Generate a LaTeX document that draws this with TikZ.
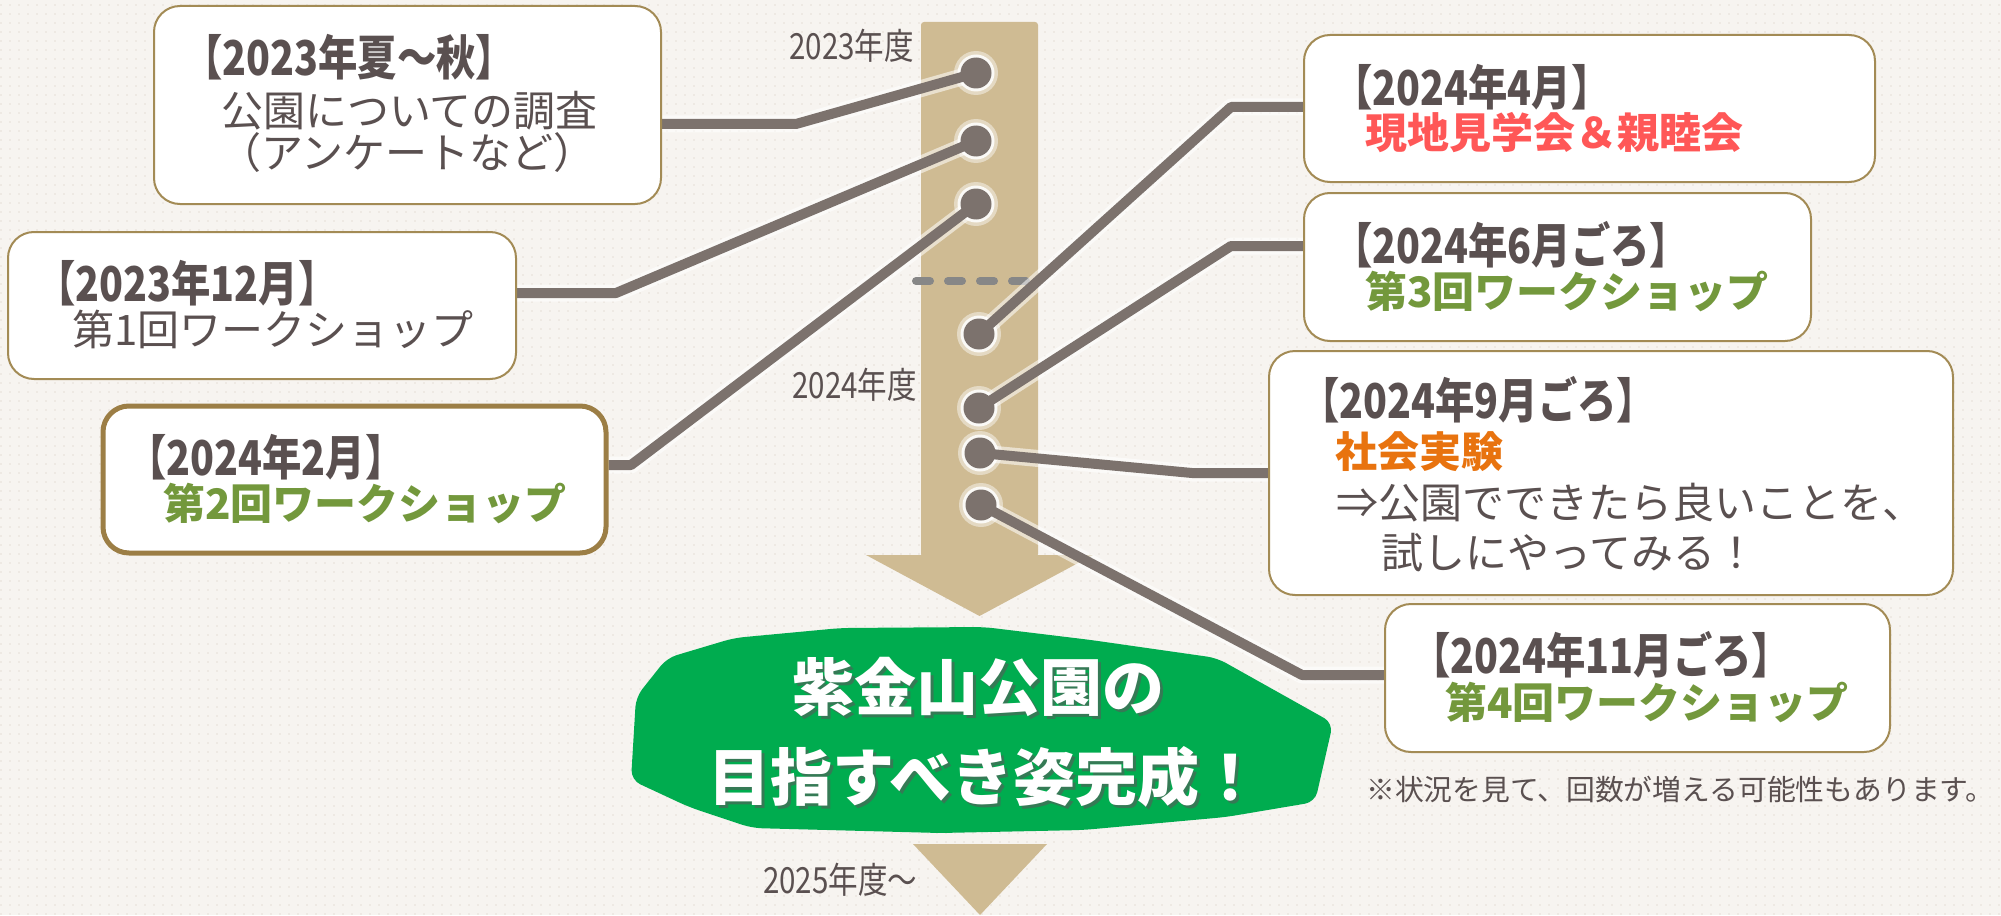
\documentclass[tikz,border=0pt]{standalone}
\usepackage{fontspec}
\newfontfamily\jp{Noto Sans CJK JP}
\newfontfamily\jpc[FakeStretch=0.82]{Noto Sans CJK JP}
\usetikzlibrary{patterns.meta}
\definecolor{bgc}{HTML}{F7F4F0}
\definecolor{dotc}{HTML}{EEE9E3}
\definecolor{textc}{HTML}{5A5050}
\definecolor{linec}{HTML}{7C726D}
\definecolor{arrowc}{HTML}{CFBB93}
\definecolor{borderc}{HTML}{A38B55}
\definecolor{borderb}{HTML}{9C7E45}
\definecolor{greent}{HTML}{73983C}
\definecolor{redt}{HTML}{FF5757}
\definecolor{oranget}{HTML}{E8730F}
\definecolor{blobc}{HTML}{00AC4F}
\definecolor{dashc}{HTML}{878787}
\pgfdeclarelayer{back}
\pgfdeclarelayer{lines}
\pgfsetlayers{back,lines,main}
\tikzdeclarepattern{
  name=bgdots,
  type=uncolored,
  bottom left={(0pt,0pt)},
  top right={(8.5pt,8.5pt)},
  tile size={(8.5pt,8.5pt)},
  code={\fill (0pt,0pt) rectangle (2pt,2pt);}
}
\begin{document}
\begin{tikzpicture}[x=1pt,y=-1pt,
  box/.style={draw=borderc, line width=2pt, fill=white, rounded corners=26pt, inner sep=0pt},
  boxb/.style={box, draw=borderb, line width=5pt},
  tx/.style={anchor=west, inner sep=0pt, text=textc, font={\jp\fontsize{42}{48}\selectfont}},
  dt/.style={anchor=west, inner sep=0pt, text=textc, font={\jpc\bfseries\fontsize{48}{54}\selectfont}},
  gt/.style={tx, text=greent, font={\jp\bfseries\fontsize{42}{48}\selectfont}},
  rt/.style={gt, text=redt},
  ot/.style={gt, text=oranget},
  yl/.style={inner sep=0pt, text=textc, font={\jpc\fontsize{36}{40}\selectfont}},
  dotpos/.style={circle, minimum size=32pt, inner sep=0pt},
  conn/.style={draw=linec, line width=10pt, line join=round},
  halo/.style={draw=white, line width=17pt, opacity=0.55, line join=round},
  goal/.style={inner sep=0pt, text=white, font={\jp\bfseries\fontsize{62}{68}\selectfont}},
  goalsh/.style={goal, text=black!65, opacity=0.6}
]
\useasboundingbox (0,0) rectangle (2001,915);
\begin{pgfonlayer}{back}
\fill[bgc] (0,0) rectangle (2001,915);
\fill[pattern={bgdots}, pattern color=dotc] (0,0) rectangle (2001,915);
% main arrow
\fill[arrowc, rounded corners=3pt] (921,557) -- (921,22) -- (1038,22) -- (1038,557) -- cycle;
\fill[arrowc] (866,555) -- (1093,555) -- (979.5,616) -- cycle;
\fill[arrowc] (913,844) -- (1047,844) -- (980,915) -- cycle;
\draw[dashc, line width=8pt, line cap=round, dash pattern=on 14pt off 18pt] (916,281) -- (1026,281);
\end{pgfonlayer}

% year labels
\node[yl, anchor=east] (y23) at (914,46) {2023年度};
\node[yl, anchor=east] (y24) at (917,385) {2024年度};
\node[yl, anchor=west] (y25) at (763,880) {2025年度～};

% dots
\node[dotpos] (d1) at (976,73) {};
\node[dotpos] (d2) at (976,141) {};
\node[dotpos] (d3) at (976,204) {};
\node[dotpos] (d4) at (979,334) {};
\node[dotpos] (d5) at (979,408) {};
\node[dotpos] (d6) at (980,453) {};
\node[dotpos] (d7) at (981,505) {};

% boxes
\node[box, minimum width=507pt, minimum height=198pt] (b1) at (407.5,105) {};
\node[box, minimum width=508pt, minimum height=147pt] (b2) at (262,305.5) {};
\node[boxb, minimum width=503pt, minimum height=147pt] (b3) at (354.5,479.5) {};
\node[box, minimum width=571pt, minimum height=147pt] (b4) at (1589.5,108.5) {};
\node[box, minimum width=507pt, minimum height=148pt] (b5) at (1557.5,267) {};
\node[box, minimum width=684pt, minimum height=244pt] (b6) at (1611,473) {};
\node[box, minimum width=505pt, minimum height=148pt] (b7) at (1637.5,678) {};

% texts
\node[dt] (t1a) at (183,57) {【2023年夏～秋】};
\node[tx] (t1b) at (221,111) {公園についての調査};
\node[tx] (t1c) at (219,153) {（アンケートなど）};
\node[dt] (t2a) at (36,283) {【2023年12月】};
\node[tx] (t2b) at (72,329) {第1回ワークショップ};
\node[dt] (t3a) at (127,457) {【2024年2月】};
\node[gt] (t3b) at (163,503) {第2回ワークショップ};
\node[dt] (t4a) at (1333,87) {【2024年4月】};
\node[rt] (t4b) at (1365,133) {現地見学会＆親睦会};
\node[dt] (t5a) at (1333,245) {【2024年6月ごろ】};
\node[gt] (t5b) at (1365,291) {第3回ワークショップ};
\node[dt] (t6a) at (1300,400) {【2024年9月ごろ】};
\node[ot] (t6b) at (1335,452) {社会実験};
\node[tx] (t6c) at (1336,503) {⇒公園でできたら良いことを、};
\node[tx] (t6d) at (1381,553) {試しにやってみる！};
\node[dt] (t7a) at (1411,655) {【2024年11月ごろ】};
\node[gt] (t7b) at (1445,702) {第4回ワークショップ};

\node[anchor=west, inner sep=0pt, text=textc, font={\jp\fontsize{28.8}{33}\selectfont}] (note) at (1366,790) {※状況を見て、回数が増える可能性もあります。};

% bends
\coordinate (c1) at (796,124);
\coordinate (c2) at (616,293);
\coordinate (c3) at (631,465);
\coordinate (c4) at (1231,107);
\coordinate (c5) at (1231,246);
\coordinate (c6) at (1192,473);
\coordinate (c7) at (1302,675);

\begin{pgfonlayer}{lines}
\foreach \d/\c/\b in {d1/c1/b1,d2/c2/b2,d3/c3/b3,d4/c4/b4,d5/c5/b5,d6/c6/b6,d7/c7/b7}{
  \draw[halo] (\d.center) -- (\c) -- (\c -| \b.east);
}
\foreach \d in {d1,d2,d3,d4,d5,d6,d7}{
  \fill[white, opacity=0.45] (\d.center) circle[radius=22];
  \fill[white, opacity=0.85] (\d.center) circle[radius=18.5];
}
\draw[conn] (d1.center) -- (c1) -- (c1 -| b1.east);
\draw[conn] (d2.center) -- (c2) -- (c2 -| b2.east);
\draw[conn] (d3.center) -- (c3) -- (c3 -| b3.east);
\draw[conn] (d4.center) -- (c4) -- (c4 -| b4.west);
\draw[conn] (d5.center) -- (c5) -- (c5 -| b5.west);
\draw[conn] (d6.center) -- (c6) -- (c6 -| b6.west);
\draw[conn] (d7.center) -- (c7) -- (c7 -| b7.west);
\foreach \d in {d1,d2,d3,d4,d5,d6,d7}{
  \fill[linec] (\d.center) circle[radius=15.5];
}
\end{pgfonlayer}

% goal blob
\fill[blobc, rounded corners=10pt] (667,658) -- (734,638) -- (841,628) -- (984,627) -- (1091,640) -- (1217,658) -- (1333,723) -- (1315,802) -- (1226,817) -- (1083,830) -- (940,833) -- (752,828) -- (689,807) -- (631,780) -- (636,697) -- cycle;
\node[goalsh] (g1s) at (981,690) {紫金山公園の};
\node[goal] (g1) at (978,687) {紫金山公園の};
\node[goalsh] (g2s) at (988,780) {目指すべき姿完成！};
\node[goal] (g2) at (985,777) {目指すべき姿完成！};
\end{tikzpicture}
\end{document}
